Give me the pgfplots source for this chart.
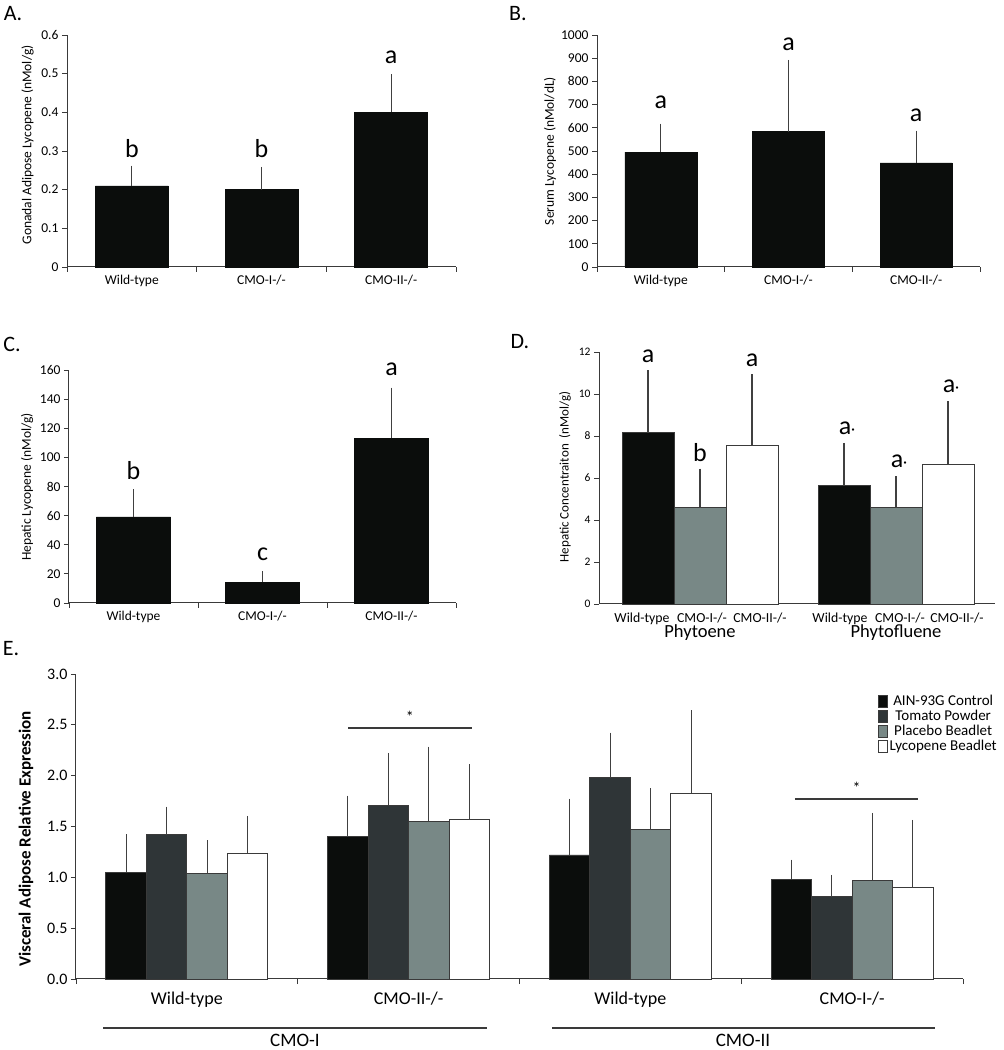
\documentclass[border=0pt]{standalone}
\usepackage{fontspec}
\setmainfont{Carlito}
\usepackage{pgfplots}
\pgfplotsset{compat=1.18}

\definecolor{cblack}{HTML}{0B0D0C}
\definecolor{cdark}{HTML}{2F3537}
\definecolor{cgray}{HTML}{788886}
\definecolor{axc}{HTML}{3A3A3A}
\definecolor{errc}{HTML}{404040}

\newcommand{\fs}[1]{\fontsize{#1}{#1}\selectfont}

\pgfplotsset{
  panel/.style={
    scale only axis, ymin=0, clip=false,
    axis x line*=bottom, axis y line*=left,
    axis line style={draw=axc, line width=1pt, -},
    tick align=outside, major tick length=5pt,
    tick style={draw=axc, line width=0.9pt},
    /pgf/number format/assume math mode=true,
    /pgf/number format/1000 sep={},
    error bars/y dir=plus, error bars/y explicit,
    error bars/error bar style={draw=errc, line width=1.2pt},
    error bars/error mark options={draw=errc, line width=1.2pt, mark size=3.5pt},
  },
}
\tikzset{sig/.style={font=\fs{26}, anchor=base, inner sep=0pt}}

\begin{document}
\begin{tikzpicture}

% ---------- A ----------
\begin{axis}[panel, ybar, at={(67pt,783pt)}, anchor=south west,
  width=389pt, height=232pt, xmin=0, xmax=3, ymax=0.6,
  ytick={0,0.1,0.2,0.3,0.4,0.5,0.6},
  xtick={0,1,2,3}, x tick label as interval,
  xticklabels={Wild-type,CMO-I-/-,CMO-II-/-},
  ticklabel style={font=\fs{13.5}}, bar width=73pt]
\addplot[fill=cblack, draw=cblack] coordinates
  {(0.5,0.210) +- (0,0.043) (1.5,0.200) +- (0,0.050) (2.5,0.400) +- (0,0.090)};
\node[sig] at (axis cs:0.5,0.284) {b};
\node[sig] at (axis cs:1.5,0.284) {b};
\node[sig] at (axis cs:2.5,0.525) {a};
\end{axis}

% ---------- B ----------
\begin{axis}[panel, ybar, at={(597pt,783pt)}, anchor=south west,
  width=383pt, height=232pt, xmin=0, xmax=3, ymax=1000,
  ytick={0,100,...,1000},
  xtick={0,1,2,3}, x tick label as interval,
  xticklabels={Wild-type,CMO-I-/-,CMO-II-/-},
  ticklabel style={font=\fs{13.5}}, bar width=72pt]
\addplot[fill=cblack, draw=cblack] coordinates
  {(0.5,495) +- (0,108) (1.5,584) +- (0,294) (2.5,449) +- (0,124)};
\node[sig] at (axis cs:0.5,685) {a};
\node[sig] at (axis cs:1.5,935) {a};
\node[sig] at (axis cs:2.5,629) {a};
\end{axis}

% ---------- C ----------
\begin{axis}[panel, ybar, at={(69pt,447pt)}, anchor=south west,
  width=387pt, height=233pt, xmin=0, xmax=3, ymax=160,
  ytick={0,20,...,160},
  xtick={0,1,2,3}, x tick label as interval,
  xticklabels={Wild-type,CMO-I-/-,CMO-II-/-},
  ticklabel style={font=\fs{13.5}}, bar width=74pt]
\addplot[fill=cblack, draw=cblack] coordinates
  {(0.5,59.1) +- (0,16.5) (1.5,14.2) +- (0,5.3) (2.5,113.2) +- (0,32.3)};
\node[sig] at (axis cs:0.5,85) {b};
\node[sig] at (axis cs:1.5,29) {c};
\node[sig] at (axis cs:2.5,156) {a};
\end{axis}

% ---------- D ----------
\begin{axis}[panel, ybar=0pt, at={(599pt,446pt)}, anchor=south west,
  width=396pt, height=252pt, xmin=599, xmax=995, ymax=12,
  ytick={0,2,...,12},
  xtick={642,702,760,840,900,957},
  xticklabels={Wild-type,CMO-I-/-,CMO-II-/-,Wild-type,CMO-I-/-,CMO-II-/-},
  x tick style={draw=none},
  yticklabel style={font=\fs{11.5}}, xticklabel style={font=\fs{13.8}},
  bar width=52pt]
\addplot[fill=cblack, draw=axc, line width=0.8pt] coordinates
  {(700,8.15) +- (0,2.82) (896,5.63) +- (0,1.88)};
\addplot[fill=cgray, draw=axc, line width=0.8pt] coordinates
  {(700,4.60) +- (0,1.68) (896,4.60) +- (0,1.31)};
\addplot[fill=white, draw=axc, line width=0.8pt] coordinates
  {(700,7.56) +- (0,3.22) (896,6.66) +- (0,2.82)};
\node[sig] at (axis cs:648,11.48) {a};
\node[sig] at (axis cs:700,6.80) {b};
\node[sig] at (axis cs:752,11.29) {a};
\node[sig] at (axis cs:847,8.05) {a{\fs{16}·}};
\node[sig] at (axis cs:899,6.48) {a{\fs{16}·}};
\node[sig] at (axis cs:951,10.05) {a{\fs{16}·}};
\end{axis}

% ---------- E ----------
\begin{axis}[panel, ybar=0pt, at={(76pt,71pt)}, anchor=south west,
  width=887pt, height=305pt, xmin=0, xmax=4, ymax=3,
  ytick={0,0.5,...,3},
  yticklabel style={font=\fs{16}, /pgf/number format/.cd, fixed, fixed zerofill, precision=1},
  xtick={0,1,2,3,4}, x tick label as interval,
  xticklabels={Wild-type,CMO-II-/-,Wild-type,CMO-I-/-},
  xticklabel style={font=\fs{18}, yshift=-4pt},
  bar width=40.5pt,
  legend image code/.code={\draw[#1, line width=0.6pt] (0pt,-6pt) rectangle (9pt,6pt);},
  legend style={at={(0.904,0.938)}, anchor=north west, draw=none, fill=none,
    font=\fs{15}, row sep=-1pt, inner sep=0pt}]
\addplot[fill=cblack, draw=axc, line width=0.8pt] coordinates
  {(0.5,1.05) +- (0,0.34) (1.5,1.40) +- (0,0.37) (2.5,1.22) +- (0,0.52) (3.5,0.98) +- (0,0.16)};
\addlegendentry{AIN-93G Control}
\addplot[fill=cdark, draw=axc, line width=0.8pt] coordinates
  {(0.5,1.42) +- (0,0.24) (1.5,1.71) +- (0,0.48) (2.5,1.98) +- (0,0.41) (3.5,0.81) +- (0,0.18)};
\addlegendentry{Tomato Powder}
\addplot[fill=cgray, draw=axc, line width=0.8pt] coordinates
  {(0.5,1.04) +- (0,0.29) (1.5,1.55) +- (0,0.70) (2.5,1.47) +- (0,0.37) (3.5,0.97) +- (0,0.63)};
\addlegendentry{Placebo Beadlet}
\addplot[fill=white, draw=axc, line width=0.8pt] coordinates
  {(0.5,1.24) +- (0,0.33) (1.5,1.57) +- (0,0.51) (2.5,1.83) +- (0,0.78) (3.5,0.90) +- (0,0.63)};
\addlegendentry{Lycopene Beadlet}
\draw[axc, line width=1.4pt] (axis cs:1.227,2.47) -- (axis cs:1.786,2.47);
\node[font=\fs{16}] at (axis cs:1.506,2.58) {*};
\draw[axc, line width=1.4pt] (axis cs:3.242,1.77) -- (axis cs:3.797,1.77);
\node[font=\fs{16}] at (axis cs:3.52,1.88) {*};
\end{axis}

% ---------- annotations ----------
\node[font=\fs{22}] at (13pt,1036pt) {A.};
\node[font=\fs{22}] at (518pt,1036pt) {B.};
\node[font=\fs{22}] at (12pt,706pt) {C.};
\node[font=\fs{22}] at (520pt,708pt) {D.};
\node[font=\fs{22}] at (11pt,401pt) {E.};

\node[rotate=90, font=\fs{13.5}] at (27.5pt,905pt) {Gonadal Adipose Lycopene (nMol/g)};
\node[rotate=90, font=\fs{13.5}] at (550pt,899pt) {Serum Lycopene (nMol/dL)};
\node[rotate=90, font=\fs{13.5}] at (27pt,563pt) {Hepatic Lycopene (nMol/g)};
\node[rotate=90, font=\fs{13}] at (565pt,573pt) {Hepatic Concentraiton\ \ (nMol/g)};
\node[rotate=90, font=\bfseries\fs{17}] at (26pt,211pt) {Visceral Adipose Relative Expression};

\node[font=\fs{18.5}] at (700pt,417pt) {Phytoene};
\node[font=\fs{18.5}] at (896pt,417pt) {Phytofluene};

\draw[axc, line width=1.4pt] (103pt,22pt) -- (487pt,22pt);
\draw[axc, line width=1.4pt] (552pt,22pt) -- (935pt,22pt);
\node[font=\fs{19}, anchor=base] at (295pt,3.5pt) {CMO-I};
\node[font=\fs{19}, anchor=base] at (743pt,3.5pt) {CMO-II};

\pgfresetboundingbox
\path[use as bounding box] (0,0) rectangle (1004pt,1050pt);
\end{tikzpicture}
\end{document}
